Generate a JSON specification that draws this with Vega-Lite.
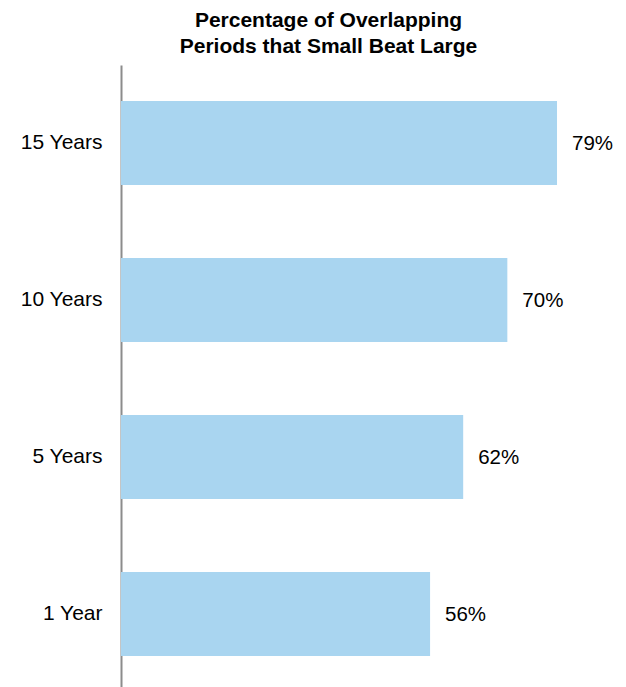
{
  "$schema": "https://vega.github.io/schema/vega-lite/v6.json",
  "autosize": "none",
  "width": 505,
  "height": 627,
  "padding": {"left": 121, "top": 65, "right": 0, "bottom": 0},
  "background": "white",
  "title": {
    "text": ["Percentage of Overlapping", "Periods that Small Beat Large"],
    "font": "Liberation Sans",
    "fontSize": 21,
    "fontWeight": "bold",
    "color": "#000000",
    "lineHeight": 26,
    "anchor": "middle",
    "dx": -45,
    "offset": 8
  },
  "data": {
    "values": [
      {"period": "15 Years", "pct": 0.79},
      {"period": "10 Years", "pct": 0.70},
      {"period": "5 Years", "pct": 0.62},
      {"period": "1 Year", "pct": 0.56}
    ]
  },
  "encoding": {
    "y": {
      "field": "period",
      "type": "nominal",
      "sort": ["15 Years", "10 Years", "5 Years", "1 Year"],
      "scale": {"paddingInner": 0.465, "paddingOuter": 0.23},
      "axis": {
        "title": null,
        "ticks": false,
        "grid": false,
        "domainColor": "#8c8c8c",
        "domainWidth": 2,
        "labelFont": "Liberation Sans",
        "labelFontSize": 21,
        "labelColor": "#000000",
        "labelPadding": 19
      }
    },
    "x": {
      "field": "pct",
      "type": "quantitative",
      "scale": {"domain": [0, 0.915]},
      "axis": null
    }
  },
  "layer": [
    {"mark": {"type": "bar", "color": "#a9d5f0"}},
    {
      "mark": {
        "type": "text",
        "align": "left",
        "dx": 15,
        "dy": 1,
        "font": "Liberation Sans",
        "fontSize": 20.5,
        "color": "#000000"
      },
      "encoding": {
        "text": {"field": "pct", "type": "quantitative", "format": ".0%"},
        "x": {"field": "pct", "type": "quantitative"}
      }
    }
  ],
  "config": {"view": {"stroke": null}}
}
